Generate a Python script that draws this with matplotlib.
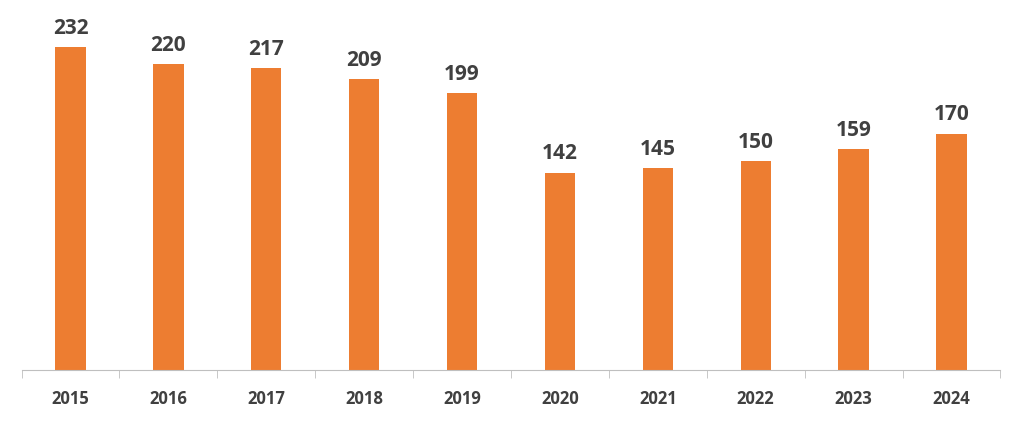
import matplotlib
matplotlib.use("Agg")
import matplotlib.pyplot as plt

years = ["2015", "2016", "2017", "2018", "2019", "2020", "2021", "2022", "2023", "2024"]
values = [232, 220, 217, 209, 199, 142, 145, 150, 159, 170]

BAR_COLOR = "#ED7D31"
TEXT_COLOR = "#404040"

plt.rcParams['font.family'] = ['Open Sans', 'DejaVu Sans']

fig = plt.figure(figsize=(10.24, 4.25), dpi=100)
ax = fig.add_axes([0.021, 0.129, 0.956, 0.871])

x = range(len(years))
bars = ax.bar(x, values, width=0.31, color=BAR_COLOR)
for xi, v in zip(x, values):
    ax.text(xi, v + 6, str(v), ha="center", va="bottom", fontsize=15,
            fontweight="bold", color=TEXT_COLOR)

ax.set_xlim(-0.5, len(years) - 0.5)
ax.set_ylim(0, 266)
ax.set_yticks([])
ax.set_xticks(list(x))
ax.set_xticklabels(years, fontsize=12, fontweight="bold", color=TEXT_COLOR)
ax.tick_params(axis="x", length=0, pad=14)
# small separator ticks between categories
ax.set_xticks([i - 0.5 for i in range(len(years) + 1)], minor=True)
ax.tick_params(axis="x", which="minor", length=6, color="#BFBFBF")

for s in ["top", "right", "left"]:
    ax.spines[s].set_visible(False)
ax.spines["bottom"].set_color("#BFBFBF")

fig.savefig("out.png", dpi=100)
